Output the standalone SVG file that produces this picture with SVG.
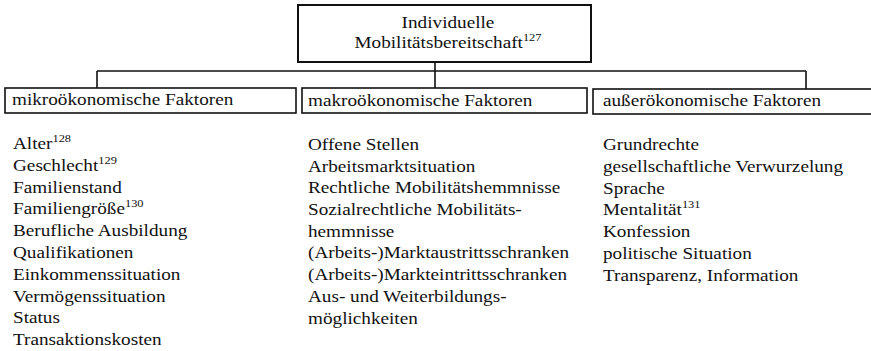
<svg xmlns="http://www.w3.org/2000/svg" width="871" height="351" viewBox="0 0 871 351">
<style>
text{font-family:"Liberation Serif","Times New Roman",serif;font-size:17px;fill:#111}
.sup{font-size:11px}
.box{fill:#fff;stroke:#111;stroke-width:1.6}
.top{fill:#fff;stroke:#111;stroke-width:2}
.con{stroke:#111;stroke-width:1.6;fill:none}
</style>
<rect width="871" height="351" fill="#fff"/>
<g id="connectors">
<path class="con" d="M97,71 H806 M97,71 V88 M435,62 V88 M806,71 V89"/>
</g>
<g id="root">
<rect class="top" x="298" y="5" width="293" height="57"/>
<g transform="translate(448 0) scale(1.13 1)">
<text x="0" y="28" text-anchor="middle">Individuelle</text>
<text x="0" y="48" text-anchor="middle">Mobilitätsbereitschaft<tspan class="sup" dy="-7">127</tspan></text>
</g>
</g>
<g id="mikro">
<rect class="box" x="5" y="88" width="291" height="25"/>
<text transform="translate(12 105) scale(1.13 1)">mikroökonomische Faktoren</text>
</g>
<g id="makro">
<rect class="box" x="302" y="88" width="285" height="25"/>
<text transform="translate(308 106) scale(1.13 1)">makroökonomische Faktoren</text>
</g>
<g id="ausser">
<rect class="box" x="593" y="89" width="290" height="25"/>
<text transform="translate(603 106) scale(1.13 1)">außerökonomische Faktoren</text>
</g>
<g id="mikro-list" transform="translate(13 149) scale(1.13 1)">
<text y="0">Alter<tspan class="sup" dy="-7">128</tspan></text>
<text y="21.8">Geschlecht<tspan class="sup" dy="-7">129</tspan></text>
<text y="43.6">Familienstand</text>
<text y="65.4">Familiengröße<tspan class="sup" dy="-7">130</tspan></text>
<text y="87.2">Berufliche Ausbildung</text>
<text y="109">Qualifikationen</text>
<text y="130.8">Einkommenssituation</text>
<text y="152.6">Vermögenssituation</text>
<text y="174.4">Status</text>
<text y="196.2">Transaktionskosten</text>
</g>
<g id="makro-list" transform="translate(308 150) scale(1.13 1)">
<text y="0">Offene Stellen</text>
<text y="21.7">Arbeitsmarktsituation</text>
<text y="43.4">Rechtliche Mobilitätshemmnisse</text>
<text y="65.1">Sozialrechtliche Mobilitäts-</text>
<text y="86.8">hemmnisse</text>
<text y="108.5">(Arbeits-)Marktaustrittsschranken</text>
<text y="130.2">(Arbeits-)Markteintrittsschranken</text>
<text y="151.9">Aus- und Weiterbildungs-</text>
<text y="173.6">möglichkeiten</text>
</g>
<g id="ausser-list" transform="translate(603 150) scale(1.13 1)">
<text y="0">Grundrechte</text>
<text y="21.8">gesellschaftliche Verwurzelung</text>
<text y="43.6">Sprache</text>
<text y="65.4">Mentalität<tspan class="sup" dy="-7">131</tspan></text>
<text y="87.2">Konfession</text>
<text y="109">politische Situation</text>
<text y="130.8">Transparenz, Information</text>
</g>
</svg>
